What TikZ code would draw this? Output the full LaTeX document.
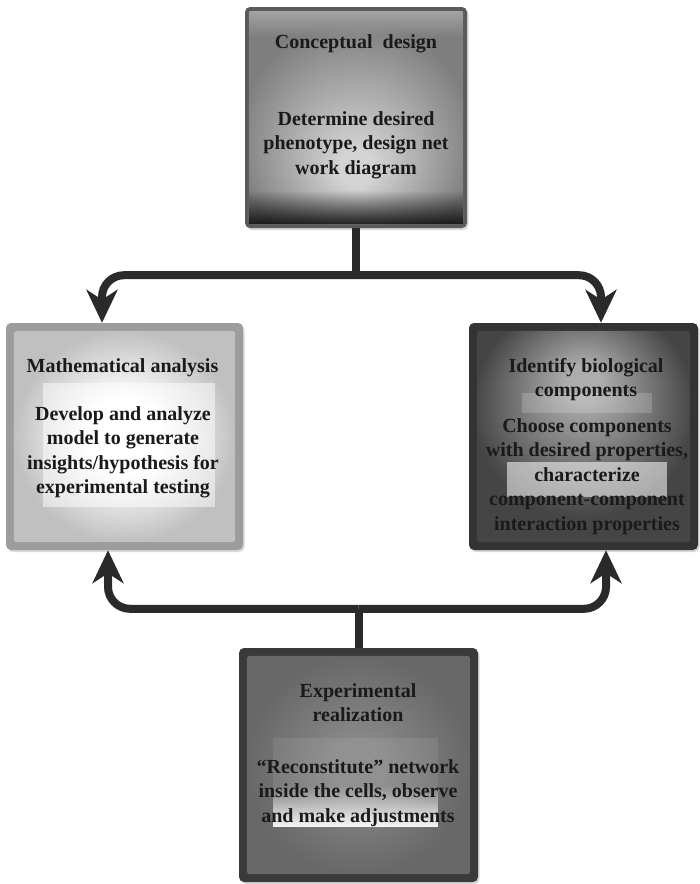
\documentclass[tikz,border=0pt]{standalone}
\usepackage{fontspec}
\setmainfont{Liberation Serif}
\usetikzlibrary{arrows.meta,shadows,fadings,calc}
\definecolor{ink}{HTML}{1A1A1A}
\definecolor{conn}{HTML}{2A2A2A}
\definecolor{tFrame}{HTML}{5A5A5A}
\definecolor{tIn}{HTML}{D4D4D4}
\definecolor{tOut}{HTML}{7E7E7E}
\definecolor{lFrame}{HTML}{9C9C9C}
\definecolor{lIn}{HTML}{FFFFFF}
\definecolor{lOut}{HTML}{C0C0C0}
\definecolor{rFrame}{HTML}{333333}
\definecolor{rIn}{HTML}{ADADAD}
\definecolor{rOut}{HTML}{454545}
\definecolor{bFrame}{HTML}{3A3A3A}
\definecolor{bIn}{HTML}{888888}
\definecolor{bOut}{HTML}{686868}
\pgfdeclareradialshading{topsh}{\pgfpoint{0bp}{-13bp}}{color(0bp)=(tIn); color(4bp)=(tIn); color(28bp)=(tOut); color(50bp)=(tOut)}
\pgfdeclareradialshading{leftsh}{\pgfpoint{0bp}{0bp}}{color(0bp)=(lIn); color(9bp)=(lIn); color(25bp)=(lOut); color(50bp)=(lOut)}
\pgfdeclareradialshading{rightsh}{\pgfpoint{0bp}{14bp}}{color(0bp)=(rIn); color(4bp)=(rIn); color(26bp)=(rOut); color(50bp)=(rOut)}
\pgfdeclareradialshading{botsh}{\pgfpoint{0bp}{0bp}}{color(0bp)=(bIn); color(6bp)=(bIn); color(25bp)=(bOut); color(50bp)=(bOut)}
\begin{document}
\begin{tikzpicture}[x=1pt,y=-1pt,
  boxnode/.style={rounded corners=5pt, inner sep=0pt, draw=none,
    drop shadow={shadow xshift=1.5pt, shadow yshift=-2pt, opacity=0.3}},
  txt/.style={font=\bfseries\fontsize{20}{24.5}\selectfont, text=ink, align=center, inner sep=0pt, anchor=north},
  conn/.style={draw=conn, line width=8pt},
  tip/.style={-{Stealth[length=33pt,width=31pt,inset=10pt]}}
]
\useasboundingbox (0,0) rectangle (700,884);
\fill[white] (0,0) rectangle (700,884);

% ---------- boxes ----------
\node[boxnode, fill=tFrame, minimum width=222pt, minimum height=221pt] (top) at (356,117.5) {};
\node[boxnode, fill=lFrame, minimum width=237pt, minimum height=227pt] (left) at (124.5,436.5) {};
\node[boxnode, fill=rFrame, minimum width=229pt, minimum height=227pt] (right) at (583.5,436.5) {};
\node[boxnode, fill=bFrame, minimum width=239pt, minimum height=234pt] (bot) at (358.5,765) {};

% inner shadings
\shade[shading=topsh, rounded corners=3pt] ([shift={(4,4)}]top.north west) rectangle ([shift={(-4,-4)}]top.south east);
\fill[black, path fading=north, opacity=0.8] ([shift={(4,-38)}]top.south west) rectangle ([shift={(-4,-4)}]top.south east);
\fill[white, path fading=south, opacity=0.3] ([shift={(4,4)}]top.north west) rectangle ([shift={(-4,30)}]top.north east);

\shade[shading=leftsh, rounded corners=3pt] ([shift={(8,8)}]left.north west) rectangle ([shift={(-8,-8)}]left.south east);
\fill[white, opacity=0.5] (43,383) rectangle (215,507);

\shade[shading=rightsh, rounded corners=3pt] ([shift={(8,8)}]right.north west) rectangle ([shift={(-8,-8)}]right.south east);
\fill[white, opacity=0.18] (522,393) rectangle (652,413);
\fill[white, opacity=0.55] (507,462) rectangle (667,497);

\shade[shading=botsh, rounded corners=3pt] ([shift={(8,8)}]bot.north west) rectangle ([shift={(-8,-8)}]bot.south east);
\fill[white, opacity=0.08] (273,738) rectangle (438,827);
\fill[white, path fading=north, opacity=0.95] (273,785) rectangle (438,827);

% ---------- texts ----------
\node[txt] (t1) at (356,34) {Conceptual\ \ design};
\node[txt] (t2) at (356,111) {Determine desired\\phenotype, design net\\work diagram};

\node[txt] (l1) at (122.5,358) {Mathematical analysis};
\node[txt] (l2) at (123,406) {Develop and analyze\\model to generate\\insights/hypothesis for\\experimental testing};

\node[txt] (r1) at (586,358) {Identify biological\\components};
\node[txt] (r2) at (587,418) {Choose components\\with desired properties,\\characterize\\component-component\\interaction properties};

\node[txt] (b1) at (358,683) {Experimental\\realization};
\node[txt] (b2) at (358,759) {“Reconstitute” network\\inside the cells, observe\\and make adjustments};

% ---------- connectors ----------
\coordinate (tj) at ($(top.south)+(0,47)$);
\coordinate (bj) at ($(bot.north)+(0,-39)$);
\draw[conn] (top.south) -- (tj);
\draw[conn, tip, rounded corners=22pt] (tj) -| ([xshift=-22.5pt]left.north);
\draw[conn, tip, rounded corners=22pt] (tj) -| ([xshift=17.5pt]right.north);
\draw[conn] (bot.north) -- (bj);
\draw[conn, tip, rounded corners=22pt] (bj) -| ([xshift=-16.5pt]left.south);
\draw[conn, tip, rounded corners=22pt] (bj) -| ([xshift=22.5pt]right.south);
\end{tikzpicture}
\end{document}
